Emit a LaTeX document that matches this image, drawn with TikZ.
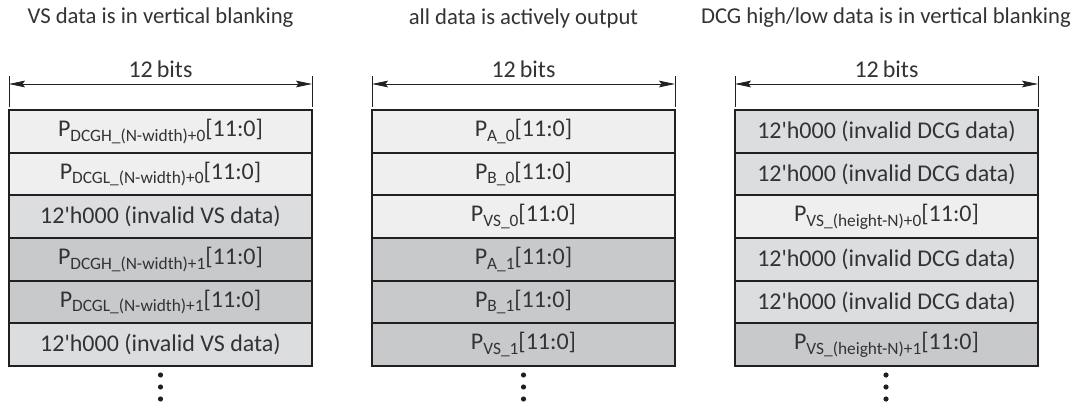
\documentclass[tikz,border=0pt]{standalone}
\usepackage{fontspec}
\setmainfont{Carlito}
\usetikzlibrary{arrows.meta,positioning}
\definecolor{Ink}{HTML}{231F20}
\definecolor{TextGray}{HTML}{333333}
\definecolor{Lite}{HTML}{EFEFEF}
\definecolor{Mid}{HTML}{DCDDDF}
\definecolor{Dark}{HTML}{C8C9CB}
\newcommand{\subtx}[1]{\raisebox{-.4ex}{\fontsize{13}{14}\selectfont #1}}
\newcommand{\zerohex}{12\textquotesingle h000}
\tikzset{cell/.style={draw=Ink,line width=1.5pt,fill=#1,outer sep=0pt,inner sep=0pt,minimum width=227.25pt,minimum height=32pt,text=TextGray,font=\fontsize{18}{20}\selectfont},
dimline/.style={{Stealth[length=12pt,width=5pt,inset=2pt]}-{Stealth[length=12pt,width=5pt,inset=2pt]},draw=Ink,line width=.6pt},
tickline/.style={draw=Ink,line width=.7pt},
head/.style={text=TextGray,font=\fontsize{17}{19}\selectfont}}

\begin{document}
\begin{tikzpicture}[x=.75pt,y=.75pt]
\useasboundingbox (0,0) rectangle (1079,404);
% titles
\node[head] (t1) at (160.5,386) {VS data is in vertical blanking};
\node[head] (t2) at (523.5,386) {all data is actively output};
\node[head] (t3) at (886,386) {DCG high/low data is in vertical blanking};
% left column
\node[cell=Lite,anchor=north west] (vs1) at (9,294) {P\subtx{DCGH\_(N-width)+0}[11:0]};
\node[cell=Lite,below=0pt of vs1] (vs2) {P\subtx{DCGL\_(N-width)+0}[11:0]};
\node[cell=Mid,below=0pt of vs2] (vs3) {\zerohex{} (invalid VS data)};
\node[cell=Dark,below=0pt of vs3] (vs4) {P\subtx{DCGH\_(N-width)+1}[11:0]};
\node[cell=Dark,below=0pt of vs4] (vs5) {P\subtx{DCGL\_(N-width)+1}[11:0]};
\node[cell=Mid,below=0pt of vs5] (vs6) {\zerohex{} (invalid VS data)};
% middle column
\node[cell=Lite,anchor=north west] (act1) at (372,294) {P\subtx{A\_0}[11:0]};
\node[cell=Lite,below=0pt of act1] (act2) {P\subtx{B\_0}[11:0]};
\node[cell=Lite,below=0pt of act2] (act3) {P\subtx{VS\_0}[11:0]};
\node[cell=Dark,below=0pt of act3] (act4) {P\subtx{A\_1}[11:0]};
\node[cell=Dark,below=0pt of act4] (act5) {P\subtx{B\_1}[11:0]};
\node[cell=Dark,below=0pt of act5] (act6) {P\subtx{VS\_1}[11:0]};
% right column
\node[cell=Mid,anchor=north west] (dcg1) at (735,294) {\zerohex{} (invalid DCG data)};
\node[cell=Mid,below=0pt of dcg1] (dcg2) {\zerohex{} (invalid DCG data)};
\node[cell=Lite,below=0pt of dcg2] (dcg3) {P\subtx{VS\_(height-N)+0}[11:0]};
\node[cell=Mid,below=0pt of dcg3] (dcg4) {\zerohex{} (invalid DCG data)};
\node[cell=Mid,below=0pt of dcg4] (dcg5) {\zerohex{} (invalid DCG data)};
\node[cell=Dark,below=0pt of dcg5] (dcg6) {P\subtx{VS\_(height-N)+1}[11:0]};
% 12 bit width marks
\foreach \c in {vs,act,dcg}{
  \coordinate (\c L) at ([yshift=19.5pt]\c1.north west);
  \coordinate (\c R) at ([yshift=19.5pt]\c1.north east);
  \draw[tickline] ([yshift=2.25pt]\c1.north west) -- ([yshift=25.5pt]\c1.north west);
  \draw[tickline] ([yshift=2.25pt]\c1.north east) -- ([yshift=25.5pt]\c1.north east);
  \draw[dimline] (\c L) -- (\c R) node[midway,above=1pt,text=TextGray,font=\fontsize{18}{20}\selectfont] (\c bits) {12\,bits};
}
% continuation dots
\foreach \cx in {160.5,523.5,886}
  \foreach \cy in {29,17,5}
    \fill[Ink] (\cx,\cy) circle (2.6);
\end{tikzpicture}
\end{document}
